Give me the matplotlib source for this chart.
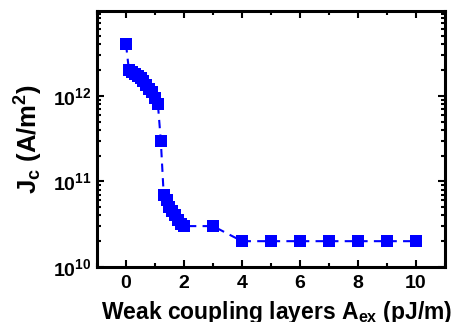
import math
import matplotlib
matplotlib.use("Agg")
import matplotlib.pyplot as plt
from matplotlib.ticker import FuncFormatter, MultipleLocator, LogLocator, NullFormatter

plt.rcParams['font.family'] = ['Liberation Sans', 'DejaVu Sans']
plt.rcParams['font.weight'] = 'bold'
plt.rcParams['mathtext.fontset'] = 'custom'
plt.rcParams['mathtext.rm'] = 'Liberation Sans:bold'
plt.rcParams['mathtext.bf'] = 'Liberation Sans:bold'
plt.rcParams['mathtext.it'] = 'Liberation Sans:bold'

a_ex = [0.0, 0.1, 0.2, 0.3, 0.4, 0.5, 0.6, 0.7, 0.8, 0.9, 1.0, 1.1, 1.2,
        1.3, 1.4, 1.5, 1.6, 1.7, 1.8, 1.9, 2.0, 3, 4, 5, 6, 7, 8, 9, 10]
jc = [4e12, 2e12, 1.9e12, 1.8e12, 1.7e12, 1.6e12, 1.5e12, 1.35e12, 1.2e12,
      1.1e12, 0.95e12, 0.8e12, 3e11,
      7e10, 6e10, 5e10, 4.5e10, 4e10, 3.5e10, 3.2e10, 3e10, 3e10,
      2e10, 2e10, 2e10, 2e10, 2e10, 2e10, 2e10]

fig = plt.figure(figsize=(4.62, 3.22), dpi=100)
ax = fig.add_axes([0.21, 0.171, 0.753, 0.795])

ax.plot(a_ex, jc, color='#0000ff', linestyle=(0, (4, 3)), linewidth=1.5,
        marker='s', markersize=8, markeredgewidth=0)

ax.set_yscale('log')
ax.set_xlim(-1, 11)
ax.set_ylim(1e10, 9.8e12)

ax.xaxis.set_major_locator(MultipleLocator(2))
ax.xaxis.set_minor_locator(MultipleLocator(1))
ax.yaxis.set_major_locator(LogLocator(base=10))
ax.yaxis.set_minor_locator(LogLocator(base=10, subs=[2, 3, 4, 5, 6, 7, 8, 9]))
ax.yaxis.set_minor_formatter(NullFormatter())
ax.yaxis.set_major_formatter(FuncFormatter(lambda v, p: r'$\mathbf{10^{%d}}$' % round(math.log10(v))))

ax.tick_params(which='both', direction='in', top=True, right=True, width=1.5,
               labelsize=14)
ax.tick_params(axis='x', which='major', pad=6)
ax.tick_params(axis='y', which='major', pad=4)
ax.tick_params(which='major', length=5)
ax.tick_params(which='minor', length=3)
for lbl in ax.get_xticklabels():
    lbl.set_fontweight('bold')

for s in ax.spines.values():
    s.set_linewidth(2.2)

ax.set_xlabel(r'Weak coupling layers A$_{ex}$ (pJ/m)', fontsize=16.5, fontweight='bold')
ax.set_ylabel(r'J$_c$ (A/m$^2$)', fontsize=18.5, fontweight='bold')
ax.xaxis.set_label_coords(0.516, -0.125)
ax.yaxis.set_label_coords(-0.15, 0.5)

fig.savefig('out.png', dpi=100)
